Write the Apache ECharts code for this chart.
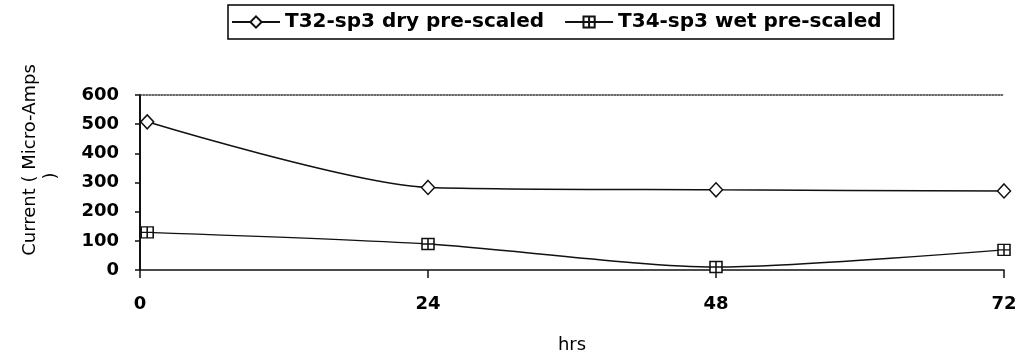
<!DOCTYPE html>
<html>
<head>
<meta charset="utf-8">
<script src="https://cdn.jsdelivr.net/npm/echarts@6/dist/echarts.min.js"></script>
<style>
  html, body { margin: 0; padding: 0; background: #fff; }
  #chart { width: 1021px; height: 360px; }
</style>
</head>
<body>
<div id="chart"></div>
<script>
// Sampling times (hours) and measured current (micro-amps)
const hours = [0.6, 24, 48, 72];
const dryPreScaled = [508, 283, 275, 271];
const wetPreScaled = [129, 89, 10, 69];
const seriesNames = ['T32-sp3 dry pre-scaled', 'T34-sp3 wet pre-scaled'];
const xTicks = [0, 24, 48, 72];
const yTicks = [0, 100, 200, 300, 400, 500, 600];

const FONT = 'DejaVu Sans';
const INK = '#111';

// Square marker with an inner cross
const crossSquare = 'path://M0,0H10V10H0Z M5,0V10 M0,5H10';

function pairs(xs, ys) {
  return xs.map((x, i) => [x, ys[i]]);
}

const chart = echarts.init(document.getElementById('chart'), null, { renderer: 'canvas' });

chart.setOption({
  backgroundColor: '#fff',
  animation: false,
  legend: {
    left: 228,
    top: 5,
    padding: [7, 12, 7, 3],
    itemGap: 20,
    itemWidth: 48,
    itemHeight: 14,
    borderColor: '#000',
    borderWidth: 1.5,
    textStyle: { fontFamily: FONT, fontWeight: 'bold', fontSize: 20, color: '#000' },
    data: seriesNames
  },
  grid: { left: 140, right: 17, top: 95, bottom: 90, containLabel: false },
  xAxis: [
    {
      type: 'value',
      min: xTicks[0],
      max: xTicks[xTicks.length - 1],
      interval: xTicks[1] - xTicks[0],
      name: 'hrs',
      nameLocation: 'middle',
      nameGap: 66,
      nameTextStyle: { fontFamily: FONT, fontSize: 18, color: '#000' },
      axisLine: { show: true, onZero: false, lineStyle: { color: INK, width: 1.5 } },
      axisTick: { show: true, length: 8, lineStyle: { color: INK, width: 1.5 } },
      axisLabel: { margin: 25, fontFamily: FONT, fontWeight: 'bold', fontSize: 18, color: '#000' },
      splitLine: { show: false }
    },
    {
      type: 'value',
      position: 'top',
      min: xTicks[0],
      max: xTicks[xTicks.length - 1],
      axisLine: { show: true, onZero: false, lineStyle: { color: '#333', width: 1.5, type: 'dotted' } },
      axisTick: { show: false },
      axisLabel: { show: false },
      splitLine: { show: false }
    }
  ],
  yAxis: {
    type: 'value',
    min: yTicks[0],
    max: yTicks[yTicks.length - 1],
    interval: yTicks[1] - yTicks[0],
    axisLine: { show: true, lineStyle: { color: INK, width: 2 } },
    axisTick: { show: true, length: 5, lineStyle: { color: INK, width: 1.5 } },
    axisLabel: { margin: 21, fontFamily: FONT, fontWeight: 'bold', fontSize: 18, color: '#000' },
    splitLine: { show: false }
  },
  graphic: [
    {
      type: 'text',
      x: 30,
      y: 160,
      rotation: Math.PI / 2,
      style: {
        text: 'Current ( Micro-Amps',
        fontFamily: FONT,
        fontSize: 18,
        fill: '#000',
        textAlign: 'center',
        textVerticalAlign: 'middle'
      }
    },
    {
      type: 'text',
      x: 51,
      y: 176,
      rotation: Math.PI / 2,
      style: {
        text: ')',
        fontFamily: FONT,
        fontSize: 18,
        fill: '#000',
        textAlign: 'center',
        textVerticalAlign: 'middle'
      }
    }
  ],
  series: [
    {
      name: seriesNames[0],
      type: 'line',
      smooth: 0.25,
      data: pairs(hours, dryPreScaled),
      symbol: 'diamond',
      symbolSize: [13, 14],
      lineStyle: { color: INK, width: 1.5 },
      itemStyle: { color: '#fff', borderColor: INK, borderWidth: 1.5 }
    },
    {
      name: seriesNames[1],
      type: 'line',
      smooth: 0.25,
      data: pairs(hours, wetPreScaled),
      symbol: crossSquare,
      symbolSize: [12, 11],
      lineStyle: { color: INK, width: 1.5 },
      itemStyle: { color: '#fff', borderColor: INK, borderWidth: 1.5 }
    }
  ]
});
</script>
</body>
</html>
